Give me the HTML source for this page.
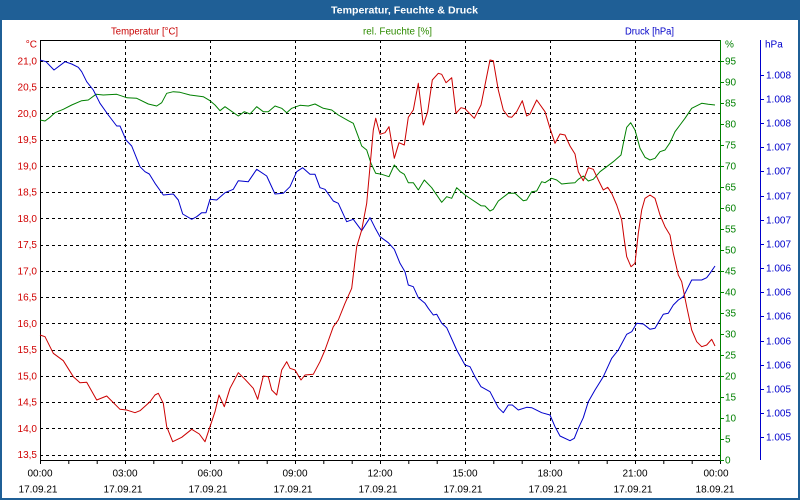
<!DOCTYPE html>
<html><head><meta charset="utf-8"><style>
html,body{margin:0;padding:0;background:#fff;}
svg{display:block;}
text{font-family:"Liberation Sans",Arial,sans-serif;font-size:10px;}
</style></head><body>
<svg width="800" height="500" viewBox="0 0 800 500" xmlns="http://www.w3.org/2000/svg">
<rect x="0" y="0" width="800" height="500" fill="#ffffff"/>
<rect x="0" y="0" width="800" height="20" fill="#1f5f96"/>
<rect x="0" y="0" width="2" height="500" fill="#1f5f96"/>
<rect x="798" y="0" width="2" height="500" fill="#1f5f96"/>
<rect x="0" y="498" width="800" height="2" fill="#1f5f96"/>
<text x="404.5" y="13.5" fill="#fff" font-weight="bold" font-size="10.5" text-anchor="middle" textLength="147" lengthAdjust="spacingAndGlyphs">Temperatur, Feuchte &amp; Druck</text>

<text x="144.5" y="34.5" fill="#c80000" text-anchor="middle" textLength="67" lengthAdjust="spacingAndGlyphs">Temperatur [°C]</text>
<text x="397.5" y="34.5" fill="#2e8b00" text-anchor="middle" textLength="69" lengthAdjust="spacingAndGlyphs">rel. Feuchte [%]</text>
<text x="649.5" y="34.5" fill="#0000c8" text-anchor="middle" textLength="49" lengthAdjust="spacingAndGlyphs">Druck [hPa]</text>

<!-- grid -->
<g stroke="#000" stroke-width="1" stroke-dasharray="3,3" fill="none">
<path d="M40 61.5H720M40 87.5H720M40 113.5H720M40 140.5H720M40 166.5H720M40 192.5H720M40 218.5H720M40 245.5H720M40 271.5H720M40 297.5H720M40 323.5H720M40 350.5H720M40 376.5H720M40 402.5H720M40 428.5H720M40 455.5H720"/>
<path d="M125.5 40V460M210.5 40V460M295.5 40V460M380.5 40V460M465.5 40V460M550.5 40V460M635.5 40V460"/>
</g>

<!-- axes -->
<g stroke-width="1" fill="none">
<path d="M40.5 40V464M40 40.5H720M40 460.5H720" stroke="#000"/>
<path d="M720.5 40V462" stroke="#008000"/>
<path d="M760.5 40V460" stroke="#0000cc"/>
<path stroke="#000" d="M68.8 460V464M97.2 460V464M125.5 460V464M153.8 460V464M182.2 460V464M210.5 460V464M238.8 460V464M267.2 460V464M295.5 460V464M323.8 460V464M352.2 460V464M380.5 460V464M408.8 460V464M437.2 460V464M465.5 460V464M493.8 460V464M522.2 460V464M550.5 460V464M578.8 460V464M607.2 460V464M635.5 460V464M663.8 460V464M692.2 460V464M720.5 460V464"/>
<path stroke="#008000" d="M720 61.5H724M720 82.5H724M720 103.5H724M720 124.5H724M720 145.5H724M720 166.5H724M720 187.5H724M720 208.5H724M720 229.5H724M720 250.5H724M720 271.5H724M720 292.5H724M720 313.5H724M720 334.5H724M720 355.5H724M720 376.5H724M720 397.5H724M720 418.5H724M720 439.5H724M720 460.5H724"/>
<path stroke="#0000cc" d="M760 75.5H764M760 99.5H764M760 123.5H764M760 147.5H764M760 171.5H764M760 196.5H764M760 220.5H764M760 244.5H764M760 268.5H764M760 292.5H764M760 316.5H764M760 341.5H764M760 365.5H764M760 389.5H764M760 413.5H764M760 437.5H764"/>
</g>

<!-- temperature labels -->
<g fill="#d00000" text-anchor="end">
<text x="37" y="47.5">°C</text>
<text x="37" y="64.5">21,0</text>
<text x="37" y="90.5">20,5</text>
<text x="37" y="117">20,0</text>
<text x="37" y="143">19,5</text>
<text x="37" y="169.5">19,0</text>
<text x="37" y="195.5">18,5</text>
<text x="37" y="222">18,0</text>
<text x="37" y="248">17,5</text>
<text x="37" y="274.5">17,0</text>
<text x="37" y="300.5">16,5</text>
<text x="37" y="327">16,0</text>
<text x="37" y="353">15,5</text>
<text x="37" y="379.5">15,0</text>
<text x="37" y="405.5">14,5</text>
<text x="37" y="432">14,0</text>
<text x="37" y="458">13,5</text>
</g>

<!-- humidity labels -->
<g fill="#008000">
<text x="725" y="47.5">%</text>
<text x="725" y="64.5">95</text>
<text x="725" y="85.5">90</text>
<text x="725" y="106.5">85</text>
<text x="725" y="127.5">80</text>
<text x="725" y="148.5">75</text>
<text x="725" y="169.5">70</text>
<text x="725" y="190.5">65</text>
<text x="725" y="211.5">60</text>
<text x="725" y="232.5">55</text>
<text x="725" y="253.5">50</text>
<text x="725" y="274.5">45</text>
<text x="725" y="295.5">40</text>
<text x="725" y="316.5">35</text>
<text x="725" y="337.5">30</text>
<text x="725" y="358.5">25</text>
<text x="725" y="379.5">20</text>
<text x="725" y="400.5">15</text>
<text x="725" y="421.5">10</text>
<text x="725" y="442.5">5</text>
<text x="725" y="463.5">0</text>
</g>

<!-- pressure labels -->
<g fill="#0000cc">
<text x="765" y="47.5">hPa</text>
<text x="766" y="78.5">1.008</text>
<text x="766" y="102.5">1.008</text>
<text x="766" y="126.5">1.008</text>
<text x="766" y="150.5">1.007</text>
<text x="766" y="174.5">1.007</text>
<text x="766" y="199.5">1.007</text>
<text x="766" y="223.5">1.007</text>
<text x="766" y="247.5">1.007</text>
<text x="766" y="271.5">1.006</text>
<text x="766" y="295.5">1.006</text>
<text x="766" y="319.5">1.006</text>
<text x="766" y="344.5">1.006</text>
<text x="766" y="368.5">1.006</text>
<text x="766" y="392.5">1.005</text>
<text x="766" y="416.5">1.005</text>
<text x="766" y="440.5">1.005</text>
</g>

<!-- time labels -->
<g fill="#000" text-anchor="middle">
<text x="40" y="476.5">00:00</text>
<text x="125" y="476.5">03:00</text>
<text x="210" y="476.5">06:00</text>
<text x="295" y="476.5">09:00</text>
<text x="380" y="476.5">12:00</text>
<text x="465" y="476.5">15:00</text>
<text x="550" y="476.5">18:00</text>
<text x="635" y="476.5">21:00</text>
<text x="716" y="476.5">00:00</text>
<text x="38" y="492.5">17.09.21</text>
<text x="123" y="492.5">17.09.21</text>
<text x="208" y="492.5">17.09.21</text>
<text x="293" y="492.5">17.09.21</text>
<text x="378" y="492.5">17.09.21</text>
<text x="463" y="492.5">17.09.21</text>
<text x="548" y="492.5">17.09.21</text>
<text x="633" y="492.5">17.09.21</text>
<text x="715" y="492.5">18.09.21</text>
</g>

<!-- series -->
<g fill="none" stroke-width="1" stroke-linejoin="round">
<polyline stroke="#008000" points="40,120 45,121 50,117.3 55,112.7 63.3,109.3 71.7,105 81.7,100.7 88.3,100 96,94.3 103.3,95 116.7,94.3 126.7,97.7 136.7,98.3 148.3,104 156.7,106 161.7,102.7 166.7,93.3 173.3,91.7 180,92.3 190,95 203.3,96.7 210,100.7 215,105 220,110.7 225,106.7 238.3,116 244.3,111.7 250,114 256.7,106.7 263.3,111.7 268.3,111.7 275,106 281.7,108.3 286.7,112.7 291.7,108.3 300,105.3 308.3,106 315,104 323.3,108.3 331.7,110 338.3,115 348.3,120.7 353.3,123.3 358.3,136.7 361.7,146 366.7,150 371,163.3 375.7,173.3 381.7,174.3 389,176.7 394.3,165 400,171.7 404.3,174.3 408.3,182.7 413.3,182.7 418.3,190 424.3,180 431.7,187.7 441.7,202.3 446.7,196.7 451.7,198.3 456.7,187.7 465,195 481,205.7 485,206 490,211 493.3,209.3 498.3,201 508.3,193.3 515,193.3 523.3,200.7 526.7,200 531.7,191.7 536.7,191 541.7,181.7 545,182.7 551.7,178.3 556.7,180 561.7,184 568.3,183.3 575,182.7 578.3,179.3 583.3,176 588.3,181 593.3,179.3 600,171.7 606.7,166.7 613.3,161.7 621,155 624,140 626.7,127.3 630.7,122.7 635,130 640,148.3 645,157.3 650,160 655,158.3 660,151.7 665,150 670,142.7 675,131.7 680,125 685,118.3 691.7,108.3 701.7,103.3 708.3,104.3 715,105"/>
<polyline stroke="#0000cc" points="40,60 46,61.7 54,70 65,61.7 71.7,64 78.3,67.3 81.7,71.7 86.7,81.7 93.3,90 100,103.3 108.3,115 116.7,126 120,126 126,140 131.7,146 140,166.7 145,171.7 149.3,174 155,183.3 163.3,195 173.3,194 178.3,200 182.7,214 191.7,219.3 196.7,216.7 201.7,212.7 206,212.7 210,199.3 216.7,200 225,192.7 233.3,189.3 238.3,180.7 248.3,181.7 256.7,169.3 266.7,176 275,194 283.3,193.3 290,186.7 296.7,171.7 302.7,167.7 310,174.3 315,174.3 320,187.7 325,189.3 333.3,201 338.3,203.3 346.7,221.7 353.3,219.3 361.7,230.7 370,217.7 375,227.7 380,236.7 388.3,242.7 394.3,249.3 400,263.3 405,271.7 408.3,285 413.3,286.7 418.3,297.7 425,303.3 428.3,308.3 433.3,315 436.7,314.3 441.7,323.3 446.7,327.7 456.7,350 465,365 470,366.7 475,376.7 481,386.7 490,391.7 498.3,407.7 503.3,412.7 508.3,405 512.3,405 518.3,410 526.7,407.3 531.7,407.7 541.7,412.7 550,415 555,426.7 560,436 570,440.7 574.3,438.3 578.3,428.3 583.3,417.7 588.3,401.7 595,390 603.3,376.7 611.7,358.3 618.3,350 626.7,334.3 631.7,331.7 636.7,323.3 643.3,324 650,329.3 655,328.3 663.3,314.3 668.3,313.3 673.3,305 678.3,300 683.3,296.7 691.7,280 701.7,280 706.7,277.7 710,273.3 715,266"/>
<polyline stroke="#cc0000" points="40,335 45,336.7 53.3,353.3 63.3,360.7 73.3,376.7 80,382.7 86.7,382.3 96.7,400 106.7,396 120,409.3 126.7,410 135,412.7 140,410.7 150,401.7 155,395 158.3,393.3 163.3,403.3 166.7,426.7 172.7,441.7 181.7,437.3 191.7,429.3 199.3,434 205,441.7 210,426.7 215,411.7 219,395 224.3,406.7 230,388.3 238.3,372.7 245,379.3 253.3,388.3 257.7,399.3 263.3,376 268.3,376.7 271.7,390 276.7,395 281.7,370 286.7,361.7 290,368.3 295,370 301,380 305,375 313.3,374.3 320,361.7 325,350 333.3,326.7 338.3,320 345,303.3 351.7,288.3 356.7,246.7 361.7,230 366.7,203.3 370,166.7 373.3,130 375.7,118.3 380,134.3 385,132.7 389,126.7 394.3,158.3 399,142.7 404.3,145 408.3,117.3 413.3,110 418.3,83.3 423.3,125 427.7,111.7 432.3,80 438.3,73.3 441.7,74.3 446,82.7 451.7,77.7 456,113.3 461,107.7 465,108.7 474.3,118.3 481,105 490,60 493.3,60.7 498.3,90 503.3,110 508.3,116.7 511.7,117.3 516.7,111.7 522.3,100.7 526.7,116 530,114 536.7,100 545,111.7 550,128.3 555,143.3 560,134 565,135 570,146 575,154 578.3,171.7 583.3,180.7 588.3,167.7 593.3,169.3 598.3,180 603.3,190 607.7,187.3 611.7,193.3 616.7,205 621.7,220 624.3,240 626.7,256.7 631,266.7 635,263.3 638.3,233.3 641.7,210 645,198.3 650,195 655,198.3 660,215 665,226.7 670,235 673.3,253.3 678.3,275 681.7,281.7 686.7,306.7 691.7,330 696.7,341.7 701.7,346.7 706.7,345 711.7,339.3 715,346"/>
</g>
</svg>
</body></html>
